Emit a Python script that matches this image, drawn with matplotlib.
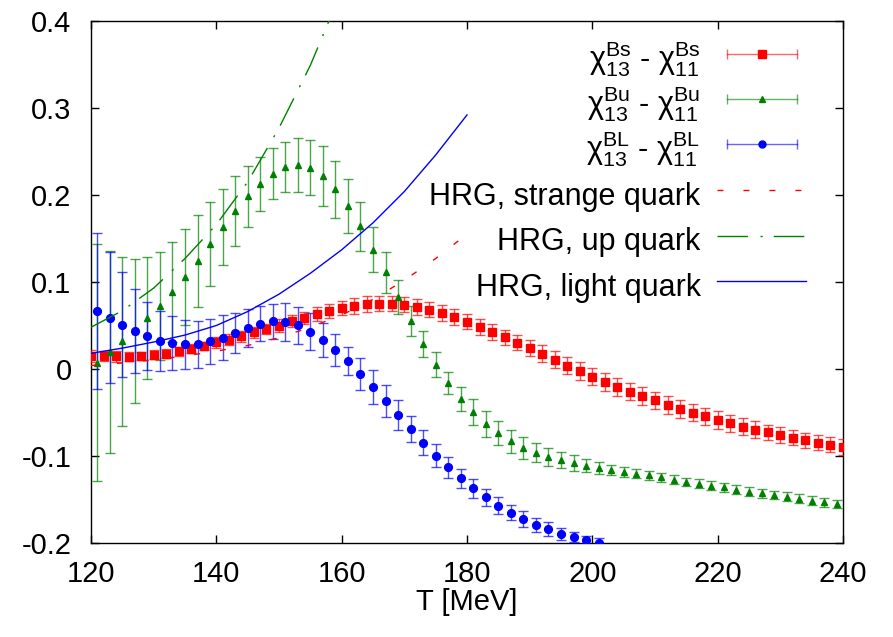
import matplotlib
matplotlib.use('Agg')
import matplotlib.pyplot as plt
from matplotlib.lines import Line2D
from matplotlib.legend_handler import HandlerLine2D
from matplotlib.colors import to_rgba

plt.rcParams['font.family'] = ['Liberation Sans', 'DejaVu Sans']
plt.rcParams['mathtext.fontset'] = 'custom'
plt.rcParams['mathtext.rm'] = 'Liberation Sans'
plt.rcParams['mathtext.it'] = 'Liberation Sans'

# lattice data: chi13 - chi11
T_s = list(range(120, 241, 2))
chi_s = [0.015, 0.015, 0.0146, 0.0142, 0.015, 0.0166, 0.0177, 0.0203, 0.0234, 0.0264,
         0.0307, 0.0338, 0.0376, 0.0422, 0.046, 0.050, 0.0548, 0.0586, 0.0632, 0.0671,
         0.0701, 0.0724, 0.0744, 0.0752, 0.0752, 0.074, 0.0709, 0.0683, 0.0646, 0.0596,
         0.0545, 0.0483, 0.0425, 0.0364, 0.0303, 0.0238, 0.0177, 0.0108, 0.0039, -0.0023,
         -0.0087, -0.0149, -0.0207, -0.026, -0.031, -0.036, -0.0414, -0.046, -0.0501, -0.0544,
         -0.0586, -0.0624, -0.0662, -0.0697, -0.0728, -0.0762, -0.0789, -0.082, -0.0846, -0.0869,
         -0.0897]
err_s = [0.007, 0.006, 0.006, 0.005, 0.005, 0.005,
         0.005, 0.005, 0.005, 0.005, 0.006, 0.006, 0.006, 0.006, 0.006, 0.007,
         0.007, 0.007, 0.008, 0.008, 0.008, 0.009, 0.009, 0.009, 0.009, 0.009,
         0.009, 0.009, 0.009, 0.009, 0.009, 0.009, 0.009, 0.009, 0.009, 0.009,
         0.010, 0.010, 0.010, 0.010, 0.010, 0.010, 0.010, 0.010, 0.010, 0.010,
         0.010, 0.010, 0.010, 0.010, 0.010, 0.010, 0.010, 0.010, 0.009, 0.009,
         0.009, 0.009, 0.009, 0.009, 0.009]

T_u = list(range(121, 240, 2))
chi_u = [0.0074, 0.0195, 0.0318, 0.044, 0.0583, 0.0729, 0.0885, 0.1057, 0.124, 0.1437,
         0.163, 0.1816, 0.1985, 0.2131, 0.2246, 0.2322, 0.2345, 0.2315, 0.2218, 0.2066,
         0.187, 0.164, 0.137, 0.111, 0.0828, 0.0552, 0.0292, 0.005, -0.0161, -0.0345,
         -0.049, -0.0636, -0.0739, -0.0831, -0.0908, -0.0961, -0.1011, -0.1049, -0.1084, -0.111,
         -0.1138, -0.1161, -0.1184, -0.1202, -0.1222, -0.1245, -0.1271, -0.1299, -0.1317, -0.134,
         -0.136, -0.1386, -0.1409, -0.1429, -0.1448, -0.1467, -0.149, -0.1513, -0.1532, -0.1552]
err_u = [0.136, 0.116, 0.097, 0.083, 0.070, 0.062, 0.058, 0.055, 0.053, 0.048,
         0.044, 0.040, 0.035, 0.031, 0.029, 0.029, 0.031, 0.032, 0.034, 0.033,
         0.031, 0.028, 0.026, 0.024, 0.020, 0.017, 0.015, 0.014, 0.013, 0.014,
         0.015, 0.015, 0.014, 0.013, 0.013, 0.011, 0.010, 0.009, 0.009, 0.007,
         0.0065, 0.006, 0.0055, 0.005, 0.005, 0.005, 0.005, 0.005, 0.005, 0.005,
         0.005, 0.005, 0.005, 0.005, 0.005, 0.005, 0.005, 0.005, 0.005, 0.005]

T_l = list(range(121, 202, 2))
chi_l = [0.0667, 0.0591, 0.051, 0.0437, 0.0376, 0.0322, 0.0295, 0.0284, 0.0287, 0.0318,
         0.0361, 0.0414, 0.0468, 0.052, 0.055, 0.054, 0.0502, 0.043, 0.0333, 0.0218,
         0.0089, -0.0057, -0.0207, -0.0368, -0.0529, -0.069, -0.0846, -0.0995, -0.113, -0.1256,
         -0.1371, -0.1475, -0.157, -0.165, -0.1724, -0.1789, -0.1843, -0.1892, -0.1931, -0.1966,
         -0.1995]
err_l = [0.090, 0.075, 0.060, 0.048, 0.039, 0.034, 0.031, 0.028, 0.027, 0.026,
         0.026, 0.023, 0.022, 0.020, 0.020, 0.022, 0.021, 0.021, 0.019, 0.018,
         0.016, 0.018, 0.019, 0.018, 0.017, 0.015, 0.014, 0.013, 0.012, 0.011,
         0.011, 0.010, 0.010, 0.009, 0.009, 0.008, 0.008, 0.007, 0.006, 0.005,
         0.005]

# HRG curves
T_hrg = [120, 125, 130, 135, 140, 145, 150, 155, 160, 165, 170, 175, 180]
hrg_s = [0.004, 0.007, 0.0105, 0.015, 0.0205, 0.027, 0.036, 0.048, 0.062, 0.080, 0.102, 0.127, 0.155]
hrg_l = [0.018, 0.024, 0.031, 0.039, 0.050, 0.066, 0.086, 0.110, 0.137, 0.168, 0.204, 0.246, 0.292]
T_hrg_u = [120, 125, 130, 135, 140, 145, 150, 155, 160]
hrg_u = [0.048, 0.067, 0.093, 0.127, 0.166, 0.215, 0.277, 0.349, 0.435]

xticks = [120, 140, 160, 180, 200, 220, 240]
yticks = [-0.2, -0.1, 0, 0.1, 0.2, 0.3, 0.4]
ylabels = ['-0.2', '-0.1', '0', '0.1', '0.2', '0.3', '0.4']

fig = plt.figure(figsize=(8.93, 6.37), dpi=100)
ax = fig.add_axes([91 / 893, 1 - 543 / 637, 752 / 893, 522 / 637])

series = [
    (T_s, chi_s, err_s, '#ff0000', 's', 5.8, r'$\mathrm{\chi^{Bs}_{13}}$ - $\mathrm{\chi^{Bs}_{11}}$'),
    (T_u, chi_u, err_u, '#008000', '^', 5.0, r'$\mathrm{\chi^{Bu}_{13}}$ - $\mathrm{\chi^{Bu}_{11}}$'),
    (T_l, chi_l, err_l, '#0000ff', 'o', 5.6, r'$\mathrm{\chi^{BL}_{13}}$ - $\mathrm{\chi^{BL}_{11}}$'),
]
pt_handles = []
pt_labels = []
cap_lines = []
for T, v, e, c, m, ms, lab in series:
    ax.errorbar(T, v, yerr=e, fmt=m, color=c, ms=ms, mec=c, ecolor=to_rgba(c, 0.7),
                elinewidth=1.0, capsize=3.5, capthick=1.0, zorder=3)
    cap = Line2D([], [], color=c, lw=1.0, alpha=0.6, marker='|', ms=7, mew=1.0)
    mk = Line2D([], [], ls='none', color=c, marker=m, ms=ms * 0.9)
    cap_lines.append(cap)
    pt_handles.append((cap, mk))
    pt_labels.append(lab)

l1, = ax.plot(T_hrg, hrg_s, color='#ff0000', lw=1.0, dashes=(4.3, 14.4), zorder=4)
l2, = ax.plot(T_hrg_u, hrg_u, color='#008000', lw=1.0, dashes=(22, 9, 1.5, 8), zorder=4)
l3, = ax.plot(T_hrg, hrg_l, color='#0000ff', lw=1.0, zorder=4)
hrg_handles = [l1, l2, l3]
hrg_labels = ['HRG, strange quark', 'HRG, up quark', 'HRG, light quark']

ax.set_xlim(120, 240)
ax.set_ylim(-0.2, 0.4)
ax.set_xticks(xticks)
ax.set_xticklabels([str(t) for t in xticks])
ax.set_yticks(yticks)
ax.set_yticklabels(ylabels)
ax.tick_params(direction='in', length=5.8, width=1.0, top=True, right=True,
               labelsize=21, pad=12)
ax.tick_params(axis='y', pad=14)
for sp in ax.spines.values():
    sp.set_linewidth(1.0)
ax.set_xlabel('T [MeV]', fontsize=21, labelpad=0)

legend_kw = dict(loc='center right', bbox_transform=fig.transFigure, frameon=False,
                 markerfirst=False, fontsize=22, handlelength=2.9, handleheight=1.5,
                 handletextpad=0.55, borderpad=0, borderaxespad=0)
hmap = {c: HandlerLine2D(numpoints=2) for c in cap_lines}
leg1 = ax.legend(pt_handles, pt_labels, bbox_to_anchor=(806 / 893, 1 - 104 / 637),
                 labelspacing=0.165, handler_map=hmap, **legend_kw)
ax.add_artist(leg1)
ax.legend(hrg_handles, hrg_labels, bbox_to_anchor=(806 / 893, 1 - 240 / 637),
          labelspacing=0.27, **legend_kw)

fig.savefig('out.png', dpi=100)
